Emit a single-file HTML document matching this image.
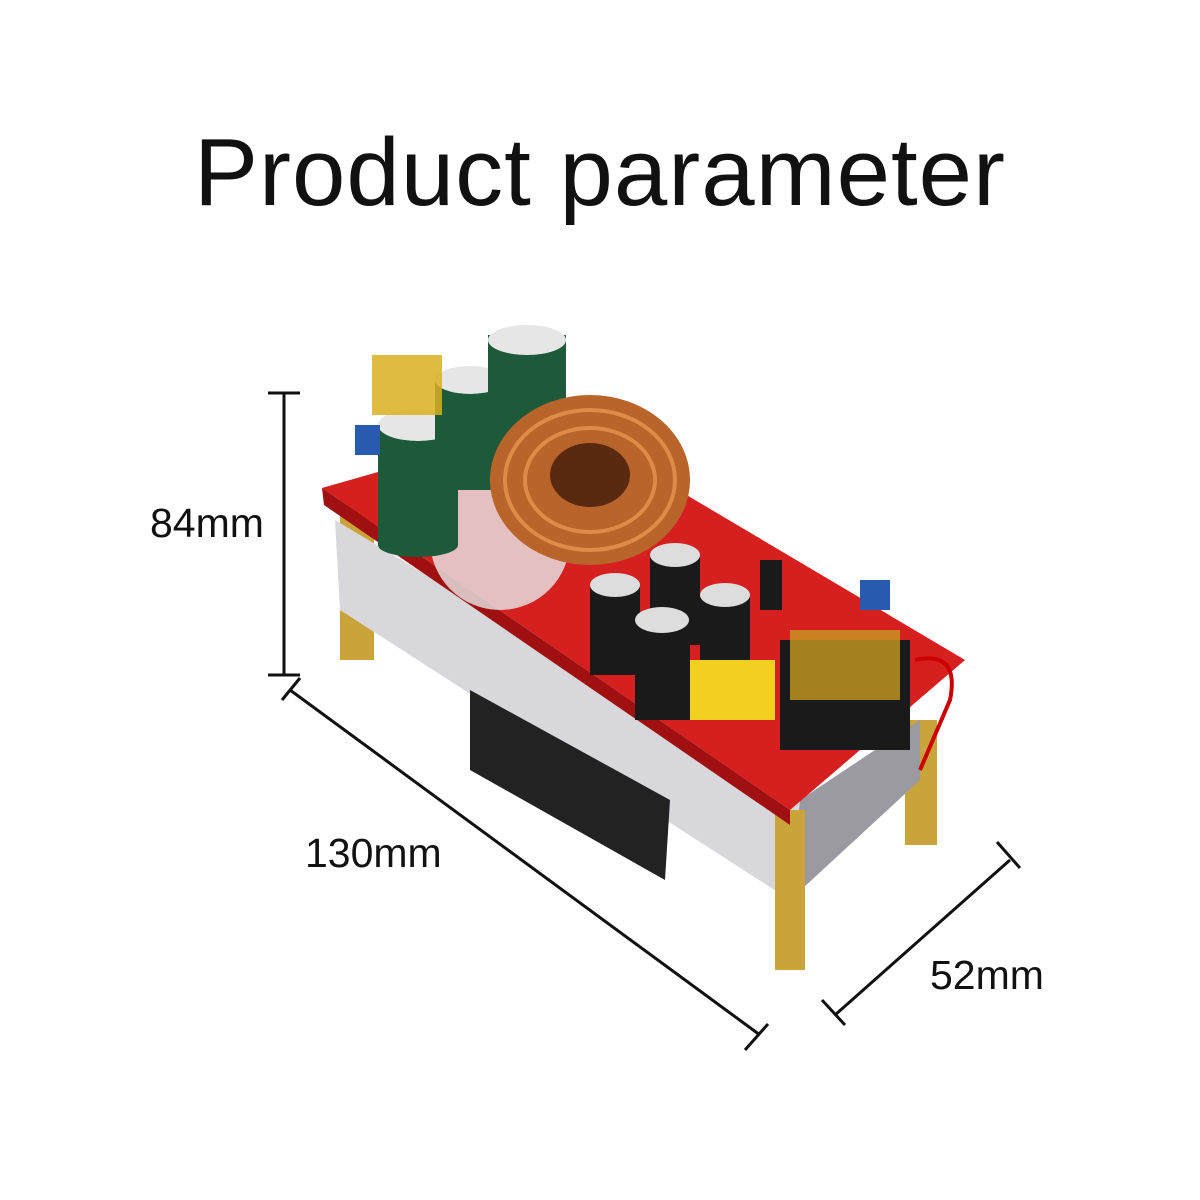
<!DOCTYPE html>
<html><head><meta charset="utf-8"><style>
html,body{margin:0;padding:0;background:#fff;}
.wrap{position:relative;width:1200px;height:1200px;overflow:hidden;background:#fff;}
.t{position:absolute;font-family:"Liberation Sans","Noto Sans CJK SC",sans-serif;color:#111;}
</style></head><body><div class="wrap">
<div class="t" style="left:0;width:1200px;top:118px;text-align:center;font-size:96px;letter-spacing:1px;">Product parameter</div>
<div class="t" style="left:150px;top:500px;font-size:41px;">84mm</div>
<div class="t" style="left:305px;top:830px;font-size:41px;">130mm</div>
<div class="t" style="left:930px;top:952px;font-size:41px;">52mm</div>
<svg width="1200" height="1200" style="position:absolute;left:0;top:0">
<g stroke="#111" stroke-width="3" fill="none">
<line x1="284" y1="393" x2="284" y2="675"/><line x1="268" y1="393" x2="300" y2="393"/><line x1="268" y1="675" x2="300" y2="675"/>
<line x1="290" y1="690" x2="760" y2="1035"/><line x1="282" y1="700" x2="300" y2="678"/><line x1="745" y1="1050" x2="768" y2="1024"/>
<line x1="835" y1="1015" x2="1010" y2="860"/><line x1="822" y1="1000" x2="845" y2="1025"/><line x1="997" y1="842" x2="1020" y2="868"/>
</g>
<rect x="340" y="500" width="34" height="160" fill="#c9a43a"/>
<rect x="905" y="720" width="32" height="125" fill="#c9a43a"/>
<polygon points="335,520 800,800 790,900 340,610" fill="#d8d8dc"/>
<polygon points="800,800 920,720 920,780 790,900" fill="#9a9aa0"/>
<polygon points="470,690 670,800 665,880 470,770" fill="#222"/>
<rect x="775" y="810" width="30" height="160" fill="#c9a43a"/>
<polygon points="322,488 560,420 965,660 790,810" fill="#d61f1f"/>
<polygon points="322,488 790,810 790,825 324,505" fill="#a01010"/>
<circle cx="500" cy="540" r="70" fill="#e8e8e8" opacity=".8"/>
<g>
<rect x="378" y="425" width="80" height="120" fill="#1c5a3a"/><ellipse cx="418" cy="425" rx="40" ry="16" fill="#e6e6e6"/><ellipse cx="418" cy="545" rx="40" ry="12" fill="#1c5a3a"/>
<rect x="435" y="380" width="70" height="110" fill="#1c5a3a"/><ellipse cx="470" cy="380" rx="35" ry="14" fill="#e6e6e6"/>
<rect x="488" y="335" width="78" height="100" fill="#1c5a3a"/><ellipse cx="527" cy="340" rx="39" ry="15" fill="#e6e6e6"/>
<rect x="372" y="355" width="70" height="60" fill="#d9b020" opacity=".85"/>
</g>
<ellipse cx="590" cy="480" rx="100" ry="85" fill="#b8642a"/>
<ellipse cx="590" cy="475" rx="40" ry="32" fill="#5a2a10"/>
<g stroke="#e08a48" stroke-width="4" fill="none"><ellipse cx="590" cy="480" rx="85" ry="70"/><ellipse cx="590" cy="480" rx="65" ry="52"/></g>
<g fill="#1a1a1a">
<rect x="590" y="585" width="50" height="90"/><ellipse cx="615" cy="585" rx="25" ry="12" fill="#ddd"/>
<rect x="650" y="555" width="50" height="90"/><ellipse cx="675" cy="555" rx="25" ry="12" fill="#ddd"/>
<rect x="700" y="595" width="50" height="90"/><ellipse cx="725" cy="595" rx="25" ry="12" fill="#ddd"/>
<rect x="635" y="620" width="55" height="100"/><ellipse cx="662" cy="620" rx="27" ry="13" fill="#ddd"/>
<rect x="760" y="560" width="22" height="50"/>
<rect x="780" y="640" width="130" height="110"/>
</g>
<rect x="790" y="630" width="110" height="70" fill="#c89a20" opacity=".8"/>
<rect x="690" y="660" width="85" height="60" fill="#f2d020"/>
<rect x="860" y="580" width="30" height="30" fill="#2a5ab0"/>
<rect x="355" y="425" width="25" height="30" fill="#2a5ab0"/>
<path d="M915 660 Q960 650 950 700 L920 770" stroke="#c00" stroke-width="4" fill="none"/>
</svg>
</div></body></html>
